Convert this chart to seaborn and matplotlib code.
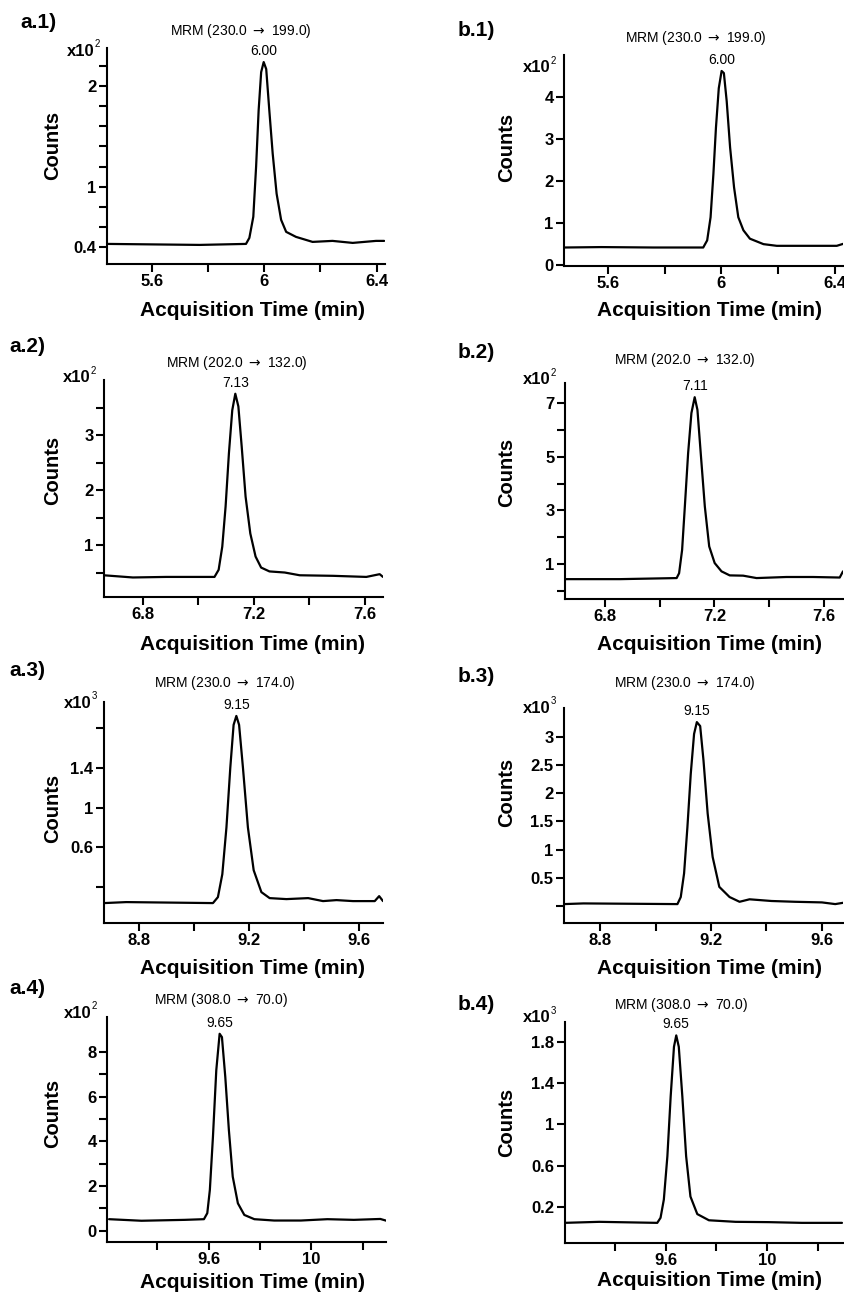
import matplotlib
matplotlib.use("Agg")
import matplotlib.pyplot as plt
import seaborn as sns

# MRM chromatograms (a = panel set a, b = panel set b).
# Counts are in units of the axis multiplier (x10^2 or x10^3).

sns.set_style("ticks")
plt.rcParams["font.family"] = ["Liberation Sans", "DejaVu Sans"]
plt.rcParams["axes.linewidth"] = 1.5
plt.rcParams["axes.spines.top"] = False
plt.rcParams["axes.spines.right"] = False
for key in ("text.color", "axes.labelcolor", "xtick.color", "ytick.color", "axes.edgecolor"):
    plt.rcParams[key] = "black"

W, H = 845, 1294

# --- traces
time_a1 = [5.44, 5.77, 5.935, 5.947, 5.961, 5.971, 5.98, 5.989, 5.998, 6.007, 6.018,
           6.03, 6.044, 6.06, 6.078, 6.113, 6.172, 6.243, 6.315, 6.398, 6.427]
counts_a1 = [0.43, 0.42, 0.43, 0.49, 0.70, 1.20, 1.76, 2.14, 2.24, 2.17, 1.76,
             1.33, 0.93, 0.67, 0.55, 0.50, 0.45, 0.46, 0.44, 0.46, 0.46]

time_b1 = [5.444, 5.576, 5.76, 5.936, 5.95, 5.962, 5.972, 5.981, 5.991, 6.001, 6.009,
           6.019, 6.031, 6.045, 6.06, 6.078, 6.101, 6.149, 6.196, 6.29, 6.408, 6.432]
counts_b1 = [0.42, 0.43, 0.42, 0.42, 0.59, 1.14, 2.17, 3.27, 4.21, 4.62, 4.57,
             3.90, 2.80, 1.85, 1.14, 0.83, 0.63, 0.50, 0.46, 0.46, 0.46, 0.51]

time_a2 = [6.659, 6.764, 6.884, 7.058, 7.073, 7.086, 7.098, 7.11, 7.122, 7.133, 7.144,
           7.156, 7.17, 7.187, 7.206, 7.226, 7.256, 7.311, 7.365, 7.485, 7.605, 7.653, 7.665]
counts_a2 = [0.45, 0.41, 0.42, 0.42, 0.55, 0.97, 1.70, 2.67, 3.45, 3.75, 3.52,
             2.79, 1.88, 1.21, 0.79, 0.59, 0.52, 0.50, 0.45, 0.44, 0.42, 0.47, 0.42]

time_b2 = [6.654, 6.855, 7.062, 7.071, 7.082, 7.092, 7.104, 7.116, 7.128, 7.138, 7.15,
           7.165, 7.181, 7.201, 7.226, 7.256, 7.305, 7.354, 7.463, 7.56, 7.658, 7.67]
counts_b2 = [0.44, 0.44, 0.48, 0.66, 1.53, 3.15, 5.14, 6.63, 7.22, 6.75, 5.14,
             3.15, 1.66, 1.04, 0.73, 0.58, 0.57, 0.48, 0.52, 0.52, 0.50, 0.73]

time_a3 = [8.673, 8.754, 9.069, 9.087, 9.103, 9.118, 9.132, 9.144, 9.154, 9.164, 9.178,
           9.196, 9.217, 9.245, 9.275, 9.336, 9.415, 9.469, 9.518, 9.578, 9.657, 9.673, 9.687]
counts_a3 = [0.04, 0.05, 0.04, 0.10, 0.33, 0.80, 1.40, 1.83, 1.92, 1.83, 1.40,
             0.80, 0.37, 0.15, 0.09, 0.08, 0.09, 0.06, 0.07, 0.06, 0.06, 0.11, 0.06]

time_b3 = [8.67, 8.74, 9.079, 9.091, 9.103, 9.115, 9.127, 9.139, 9.149, 9.161, 9.173,
           9.188, 9.206, 9.23, 9.267, 9.303, 9.339, 9.418, 9.503, 9.6, 9.648, 9.685]
counts_b3 = [0.035, 0.047, 0.035, 0.16, 0.58, 1.40, 2.34, 3.05, 3.26, 3.19, 2.58,
             1.64, 0.87, 0.34, 0.16, 0.076, 0.12, 0.09, 0.076, 0.065, 0.035, 0.065]

time_a4 = [9.213, 9.339, 9.507, 9.582, 9.595, 9.605, 9.617, 9.63, 9.643, 9.652, 9.665,
           9.679, 9.694, 9.714, 9.739, 9.778, 9.855, 9.959, 10.062, 10.165, 10.268, 10.292]
counts_a4 = [0.52, 0.45, 0.49, 0.52, 0.79, 1.83, 4.20, 7.18, 8.81, 8.66, 6.88,
             4.50, 2.42, 1.23, 0.71, 0.52, 0.46, 0.46, 0.52, 0.49, 0.53, 0.45]

time_b4 = [9.2, 9.338, 9.567, 9.58, 9.593, 9.607, 9.62, 9.633, 9.642, 9.652, 9.666,
           9.681, 9.698, 9.725, 9.771, 9.876, 10.007, 10.138, 10.296]
counts_b4 = [0.045, 0.055, 0.045, 0.094, 0.27, 0.69, 1.27, 1.75, 1.86, 1.75, 1.27,
             0.69, 0.30, 0.13, 0.07, 0.055, 0.052, 0.045, 0.045]

# --- labels
panel_labels = ["a.1)", "b.1)", "a.2)", "b.2)", "a.3)", "b.3)", "a.4)", "b.4)"]
mrm_labels = ["MRM (230.0 $\\rightarrow$ 199.0)", "MRM (230.0 $\\rightarrow$ 199.0)",
              "MRM (202.0 $\\rightarrow$ 132.0)", "MRM (202.0 $\\rightarrow$ 132.0)",
              "MRM (230.0 $\\rightarrow$ 174.0)", "MRM (230.0 $\\rightarrow$ 174.0)",
              "MRM (308.0 $\\rightarrow$ 70.0)", "MRM (308.0 $\\rightarrow$ 70.0)"]
peak_labels = ["6.00", "6.00", "7.13", "7.11", "9.15", "9.15", "9.65", "9.65"]
multiplier_exp = ["2", "2", "2", "2", "3", "3", "2", "3"]

# --- ticks
xticks_t1 = [5.6, 5.8, 6.0, 6.2, 6.4]
xticklabels_t1 = ["5.6", "", "6", "", "6.4"]
xticks_t2 = [6.8, 7.0, 7.2, 7.4, 7.6]
xticklabels_t2 = ["6.8", "", "7.2", "", "7.6"]
xticks_t3 = [8.8, 9.0, 9.2, 9.4, 9.6]
xticklabels_t3 = ["8.8", "", "9.2", "", "9.6"]
xticks_t4 = [9.4, 9.6, 9.8, 10.0, 10.2]
xticklabels_t4 = ["", "9.6", "", "10", ""]

yticks_a1 = [0.4, 0.6, 0.8, 1.0, 1.2, 1.4, 1.6, 1.8, 2.0, 2.2]
yticklabels_a1 = ["0.4", "", "", "1", "", "", "", "", "2", ""]
yticks_b1 = [0, 1, 2, 3, 4]
yticklabels_b1 = ["0", "1", "2", "3", "4"]
yticks_a2 = [0.5, 1.0, 1.5, 2.0, 2.5, 3.0, 3.5]
yticklabels_a2 = ["", "1", "", "2", "", "3", ""]
yticks_b2 = [0, 1, 2, 3, 4, 5, 6, 7]
yticklabels_b2 = ["", "1", "", "3", "", "5", "", "7"]
yticks_a3 = [0.2, 0.6, 1.0, 1.4, 1.8]
yticklabels_a3 = ["", "0.6", "1", "1.4", ""]
yticks_b3 = [0, 0.5, 1.0, 1.5, 2.0, 2.5, 3.0]
yticklabels_b3 = ["", "0.5", "1", "1.5", "2", "2.5", "3"]
yticks_a4 = [0, 1, 2, 3, 4, 5, 6, 7, 8]
yticklabels_a4 = ["0", "", "2", "", "4", "", "6", "", "8"]
yticks_b4 = [0.2, 0.6, 1.0, 1.4, 1.8]
yticklabels_b4 = ["0.2", "0.6", "1", "1.4", "1.8"]

traces = [(time_a1, counts_a1), (time_b1, counts_b1), (time_a2, counts_a2), (time_b2, counts_b2),
          (time_a3, counts_a3), (time_b3, counts_b3), (time_a4, counts_a4), (time_b4, counts_b4)]
xtick_sets = [(xticks_t1, xticklabels_t1)] * 2 + [(xticks_t2, xticklabels_t2)] * 2 + \
             [(xticks_t3, xticklabels_t3)] * 2 + [(xticks_t4, xticklabels_t4)] * 2
ytick_sets = [(yticks_a1, yticklabels_a1), (yticks_b1, yticklabels_b1),
              (yticks_a2, yticklabels_a2), (yticks_b2, yticklabels_b2),
              (yticks_a3, yticklabels_a3), (yticks_b3, yticklabels_b3),
              (yticks_a4, yticklabels_a4), (yticks_b4, yticklabels_b4)]

# --- layout (pixels in the 845x1294 canvas): axes box left, right, top, bottom
boxes = [(107, 385, 48, 264), (564, 843, 55, 266),
         (104, 383, 380, 597), (565, 843, 383, 599),
         (104, 383, 702, 923), (564, 843, 708, 923),
         (107, 386, 1017, 1242), (565, 843, 1022, 1243)]
xlims = [(5.44, 6.43), (5.444, 6.43), (6.66, 7.665), (6.654, 7.67),
         (8.673, 9.687), (8.67, 9.676), (9.205, 10.29), (9.203, 10.30)]
ylims = [(0.23, 2.38), (-0.02, 5.0), (0.055, 4.0), (-0.3, 7.75),
         (-0.16, 2.06), (-0.3, 3.51), (-0.5, 9.56), (-0.15, 1.99)]
panel_label_pos = [(20, 22), (458, 30), (9, 346), (458, 353),
                   (9, 670), (458, 676), (9, 988), (458, 1005)]
mrm_pos = [(241, 31), (696, 38), (237, 363), (685, 360),
           (225, 683), (685, 683), (221, 1000), (681, 1005)]
xlabel_pos = [(253, 310), (710, 310), (253, 645), (710, 645),
              (253, 968), (710, 968), (253, 1282), (710, 1280)]
ylabel_pos = [(53, 145), (507, 147), (53, 470), (507, 472),
              (53, 808), (507, 792), (53, 1113), (507, 1122)]
mult_pos = [(102, 50), (558, 67), (98, 377), (558, 379),
            (99, 702), (558, 707), (99, 1012), (558, 1017)]


def px(x, y):
    return x / W, 1 - y / H


fig = plt.figure(figsize=(W / 100, H / 100), dpi=100)
fig.patch.set_facecolor("white")

for i in range(8):
    l, r, t, b = boxes[i]
    ax = fig.add_axes([l / W, 1 - b / H, (r - l) / W, (b - t) / H])
    tt, cc = traces[i]
    sns.lineplot(x=tt, y=cc, color="black", linewidth=1.6, estimator=None, ax=ax)
    ax.set_xlim(*xlims[i])
    ax.set_ylim(*ylims[i])

    xt, xl = xtick_sets[i]
    yt, yl = ytick_sets[i]
    ax.set_xticks(xt)
    ax.set_xticklabels(xl)
    ax.set_yticks(yt)
    ax.set_yticklabels(yl)
    ax.tick_params(direction="out", length=5.5, width=1.5, labelsize=12, pad=2, color="black")
    for lab in ax.get_xticklabels() + ax.get_yticklabels():
        lab.set_fontweight("bold")
    for s in ("left", "bottom"):
        ax.spines[s].set_color("black")
        ax.spines[s].set_linewidth(1.5)

    ax.set_xlabel("Acquisition Time (min)", fontsize=15, fontweight="bold")
    ax.set_ylabel("Counts", fontsize=14.5, fontweight="bold")
    ax.xaxis.set_label_coords(*px(*xlabel_pos[i]), transform=fig.transFigure)
    ax.yaxis.set_label_coords(*px(*ylabel_pos[i]), transform=fig.transFigure)
    ax.xaxis.label.set_va("center")
    ax.yaxis.label.set_va("center")

    # apex label
    k = max(range(len(cc)), key=lambda j: cc[j])
    ax.annotate(peak_labels[i], xy=(tt[k], cc[k]), xytext=(0, 3),
                textcoords="offset points", ha="center", va="bottom", fontsize=10)

    # panel tag, transition, multiplier
    fig.text(*px(*panel_label_pos[i]), panel_labels[i], fontsize=15,
             fontweight="bold", ha="left", va="center")
    fig.text(*px(*mrm_pos[i]), mrm_labels[i], fontsize=10, ha="center", va="center")
    mx, my = mult_pos[i]
    fig.text(*px(mx - 7, my + 1), "x10", fontsize=12, fontweight="bold",
             ha="right", va="center")
    fig.text(*px(mx - 7, my - 6), multiplier_exp[i], fontsize=7,
             ha="left", va="center")

fig.savefig("out.png", dpi=100, facecolor="white")
